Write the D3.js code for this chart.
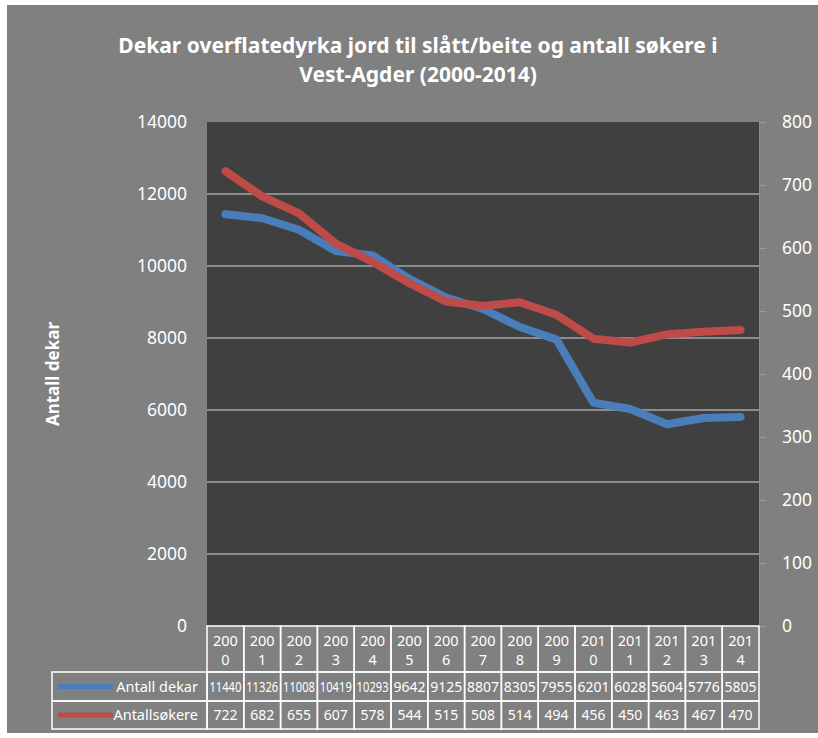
<!DOCTYPE html>
<html>
<head>
<meta charset="utf-8">
<script src="https://cdn.jsdelivr.net/npm/d3@7"></script>
<style>
  body { margin: 0; background: #ffffff; }
  text { font-family: "Noto Sans", "Open Sans", sans-serif; fill: #ffffff; }
</style>
</head>
<body>
<script>
var years = ["2000", "2001", "2002", "2003", "2004", "2005", "2006", "2007",
             "2008", "2009", "2010", "2011", "2012", "2013", "2014"];
var dekar = [11440, 11326, 11008, 10419, 10293, 9642, 9125, 8807, 8305, 7955, 6201, 6028, 5604, 5776, 5805];
var sokere = [722, 682, 655, 607, 578, 544, 515, 508, 514, 494, 456, 450, 463, 467, 470];
var leftTicks = [0, 2000, 4000, 6000, 8000, 10000, 12000, 14000];
var rightTicks = [0, 100, 200, 300, 400, 500, 600, 700, 800];
var seriesNames = ["Antall dekar", "Antallsøkere"];

var width = 818, height = 738;
var plot = { left: 207, right: 759, top: 122, bottom: 626 };
var blue = "#4a7ebb", red = "#be4b48";

var svg = d3.select("body").append("svg")
    .attr("width", width)
    .attr("height", height);

// chart background
svg.append("rect")
    .attr("x", 7).attr("y", 5)
    .attr("width", width - 7).attr("height", 728)
    .attr("fill", "#808080");

// title
var title = svg.append("text")
    .attr("text-anchor", "middle")
    .attr("font-size", 21)
    .attr("font-weight", "bold");
title.append("tspan").attr("x", 418).attr("y", 53)
    .text("Dekar overflatedyrka jord til slått/beite og antall søkere i");
title.append("tspan").attr("x", 418).attr("y", 82)
    .text("Vest-Agder (2000-2014)");

var x = d3.scaleBand().domain(years).range([plot.left, plot.right]);
var yL = d3.scaleLinear().domain([0, 14000]).range([plot.bottom, plot.top]);
var yR = d3.scaleLinear().domain([0, 800]).range([plot.bottom, plot.top]);

// plot area
svg.append("rect")
    .attr("x", plot.left).attr("y", plot.top)
    .attr("width", plot.right - plot.left).attr("height", plot.bottom - plot.top)
    .attr("fill", "#404040");

// gridlines
svg.append("g").selectAll("line")
    .data(leftTicks.slice(1, -1))
    .join("line")
    .attr("x1", plot.left).attr("x2", plot.right)
    .attr("y1", d => yL(d)).attr("y2", d => yL(d))
    .attr("stroke", "#8c8c8c")
    .attr("stroke-width", 2);

// left axis labels
var gL = svg.append("g")
    .attr("transform", "translate(" + (plot.left - 20) + ",0)")
    .call(d3.axisLeft(yL).tickValues(leftTicks).tickSize(0).tickPadding(0).tickFormat(d3.format("d")));
gL.select(".domain").remove();
gL.selectAll("text").attr("font-size", 17.5).attr("fill", "#ffffff")
    .style("font-family", "'Noto Sans', sans-serif");

// right axis
var gR = svg.append("g")
    .attr("transform", "translate(" + plot.right + ",0)")
    .call(d3.axisRight(yR).tickValues(rightTicks).tickSize(7).tickPadding(16).tickFormat(d3.format("d")));
gR.select(".domain").attr("stroke", "#8c8c8c");
gR.selectAll("line").attr("stroke", "#9a9a9a");
gR.selectAll("text").attr("font-size", 17.5).attr("fill", "#ffffff")
    .style("font-family", "'Noto Sans', sans-serif");

// y axis title
svg.append("text")
    .attr("transform", "translate(59,374) rotate(-90)")
    .attr("text-anchor", "middle")
    .attr("font-size", 17)
    .attr("font-weight", "bold")
    .text("Antall dekar");

// lines
var lineL = d3.line().x((d, i) => x(years[i]) + x.bandwidth() / 2).y(d => yL(d));
var lineR = d3.line().x((d, i) => x(years[i]) + x.bandwidth() / 2).y(d => yR(d));

svg.append("path").datum(dekar)
    .attr("d", lineL)
    .attr("fill", "none").attr("stroke", blue)
    .attr("stroke-width", 8).attr("stroke-linecap", "round").attr("stroke-linejoin", "round");

svg.append("path").datum(sokere)
    .attr("d", lineR)
    .attr("fill", "none").attr("stroke", red)
    .attr("stroke-width", 8).attr("stroke-linecap", "round").attr("stroke-linejoin", "round");

// data table
var tbl = svg.append("g");
var rowTop = plot.bottom, headerBottom = 672, row1Bottom = 701, row2Bottom = 729;
var legendLeft = 52;
var gridStroke = "#ffffff";

// header cells
tbl.selectAll(".hdr")
    .data(years)
    .join("rect")
    .attr("x", d => x(d)).attr("y", rowTop)
    .attr("width", x.bandwidth()).attr("height", headerBottom - rowTop)
    .attr("fill", "none").attr("stroke", gridStroke).attr("stroke-width", 1.5);

var hdrText = tbl.selectAll(".hdrt")
    .data(years)
    .join("text")
    .attr("text-anchor", "middle")
    .attr("font-size", 14.5);
hdrText.append("tspan")
    .attr("x", d => x(d) + x.bandwidth() / 2).attr("y", 646)
    .text(d => d.slice(0, 3));
hdrText.append("tspan")
    .attr("x", d => x(d) + x.bandwidth() / 2).attr("y", 665)
    .text(d => d.slice(3));

// value rows
var rows = [
  { name: seriesNames[0], vals: dekar, color: blue, y0: headerBottom, y1: row1Bottom },
  { name: seriesNames[1], vals: sokere, color: red, y0: row1Bottom, y1: row2Bottom }
];

rows.forEach(function(r) {
    tbl.append("rect")
        .attr("x", legendLeft).attr("y", r.y0)
        .attr("width", plot.left - legendLeft).attr("height", r.y1 - r.y0)
        .attr("fill", "none").attr("stroke", gridStroke).attr("stroke-width", 1.5);
    tbl.selectAll(null)
        .data(years)
        .join("rect")
        .attr("x", d => x(d)).attr("y", r.y0)
        .attr("width", x.bandwidth()).attr("height", r.y1 - r.y0)
        .attr("fill", "none").attr("stroke", gridStroke).attr("stroke-width", 1.5);
    var mid = (r.y0 + r.y1) / 2;
    tbl.append("line")
        .attr("x1", 60).attr("x2", 111)
        .attr("y1", mid).attr("y2", mid)
        .attr("stroke", r.color).attr("stroke-width", 5).attr("stroke-linecap", "round");
    tbl.append("text")
        .attr("x", 198).attr("y", mid + 5)
        .attr("text-anchor", "end")
        .attr("font-size", 14.5)
        .text(r.name);
    tbl.selectAll(null)
        .data(r.vals)
        .join("text")
        .attr("x", (d, i) => x(years[i]) + x.bandwidth() / 2)
        .attr("y", mid + 5)
        .attr("text-anchor", "middle")
        .attr("font-size", 14)
        .attr("textLength", d => String(d).length > 4 ? 32 : null)
        .attr("lengthAdjust", "spacingAndGlyphs")
        .text(d => d);
});
</script>
</body>
</html>
